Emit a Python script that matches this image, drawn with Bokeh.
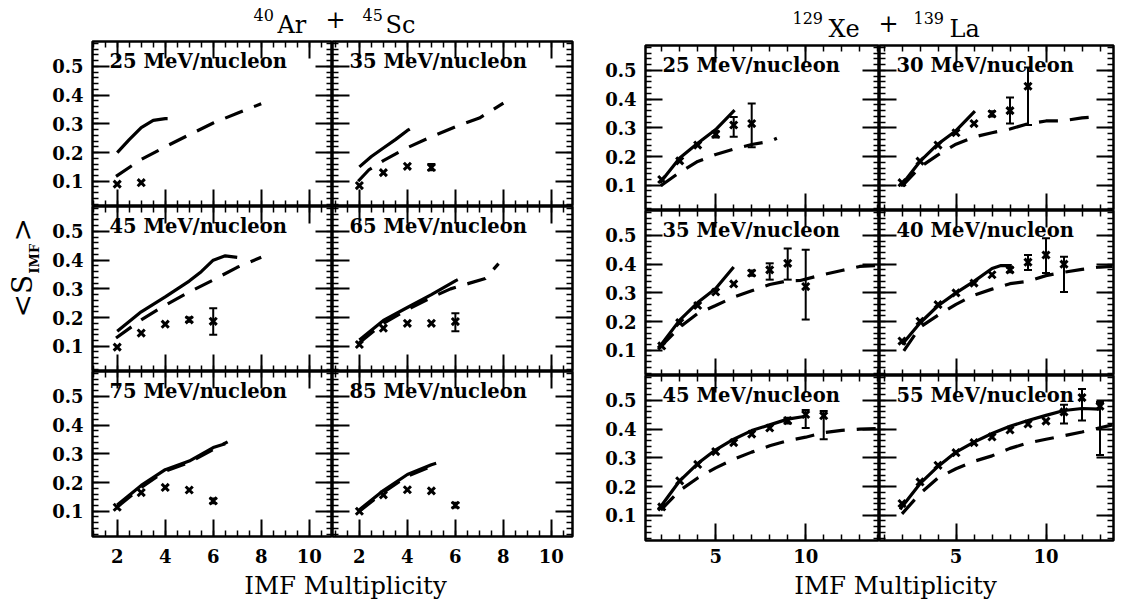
import math
from bokeh.plotting import figure
from bokeh.models import (Range1d, LinearAxis, SingleIntervalTicker, Label,
                          ColumnDataSource, Whisker, TeeHead)
from bokeh.layouts import row, column
from bokeh.embed import file_html
from bokeh.resources import INLINE

SERIF = "DejaVu Serif"

# ---------------- data: 40Ar + 45Sc ----------------
ar25_label = "25 MeV/nucleon"
ar25_solid_x = [2, 2.5, 3, 3.5, 4, 4.1]
ar25_solid_y = [0.20, 0.245, 0.287, 0.312, 0.318, 0.318]
ar25_dash_x = [1.95, 3, 4, 5, 6, 7, 8]
ar25_dash_y = [0.117, 0.176, 0.22, 0.262, 0.303, 0.337, 0.37]
ar25_data_x = [2, 3]
ar25_data_y = [0.09, 0.095]
ar25_err_x, ar25_err_lo, ar25_err_hi = [], [], []

ar35_label = "35 MeV/nucleon"
ar35_solid_x = [2, 2.5, 3, 3.5, 4, 4.1]
ar35_solid_y = [0.15, 0.186, 0.216, 0.245, 0.277, 0.282]
ar35_dash_x = [1.95, 2.4, 3, 4, 5, 6, 7, 8]
ar35_dash_y = [0.10, 0.14, 0.172, 0.217, 0.255, 0.29, 0.32, 0.372]
ar35_data_x = [2, 3, 4, 5]
ar35_data_y = [0.085, 0.13, 0.152, 0.148]
ar35_err_x, ar35_err_lo, ar35_err_hi = [5], [0.138], [0.16]

ar45_label = "45 MeV/nucleon"
ar45_solid_x = [2, 3, 4, 5, 5.5, 6, 6.5, 7]
ar45_solid_y = [0.152, 0.22, 0.272, 0.327, 0.36, 0.40, 0.415, 0.41]
ar45_dash_x = [1.95, 3, 4, 5, 6, 7, 8]
ar45_dash_y = [0.129, 0.192, 0.243, 0.289, 0.331, 0.375, 0.41]
ar45_data_x = [2, 3, 4, 5, 6]
ar45_data_y = [0.097, 0.146, 0.177, 0.192, 0.187]
ar45_err_x, ar45_err_lo, ar45_err_hi = [5, 6], [0.185, 0.14], [0.20, 0.232]

ar65_label = "65 MeV/nucleon"
ar65_solid_x = [2, 3, 4, 5, 6, 6.1]
ar65_solid_y = [0.122, 0.19, 0.235, 0.28, 0.328, 0.332]
ar65_dash_x = [2, 3, 4, 5, 5.8, 6.56, 7.25, 7.8]
ar65_dash_y = [0.112, 0.18, 0.228, 0.27, 0.30, 0.319, 0.336, 0.388]
ar65_data_x = [2, 3, 4, 5, 6]
ar65_data_y = [0.106, 0.163, 0.18, 0.18, 0.186]
ar65_err_x, ar65_err_lo, ar65_err_hi = [6], [0.152], [0.215]

ar75_label = "75 MeV/nucleon"
ar75_solid_x = [2, 3, 4, 5, 6, 6.5]
ar75_solid_y = [0.122, 0.19, 0.245, 0.275, 0.322, 0.335]
ar75_dash_x = [2, 3, 4, 5, 6, 6.6]
ar75_dash_y = [0.115, 0.183, 0.24, 0.27, 0.315, 0.342]
ar75_data_x = [2, 3, 4, 5, 6]
ar75_data_y = [0.114, 0.165, 0.183, 0.174, 0.136]
ar75_err_x, ar75_err_lo, ar75_err_hi = [6], [0.128], [0.144]

ar85_label = "85 MeV/nucleon"
ar85_solid_x = [2, 3, 4, 5, 5.2]
ar85_solid_y = [0.105, 0.172, 0.228, 0.262, 0.267]
ar85_dash_x = [2, 3, 4, 5, 5.2]
ar85_dash_y = [0.10, 0.166, 0.222, 0.256, 0.262]
ar85_data_x = [2, 3, 4, 5, 6]
ar85_data_y = [0.10, 0.157, 0.175, 0.171, 0.121]
ar85_err_x, ar85_err_lo, ar85_err_hi = [6], [0.113], [0.13]

# ---------------- data: 129Xe + 139La ----------------
xe25_label = "25 MeV/nucleon"
xe25_solid_x = [1.9, 3, 4, 5, 6.05]
xe25_solid_y = [0.108, 0.195, 0.246, 0.294, 0.362]
xe25_dash_x = [1.95, 3, 4, 5, 6, 7, 8, 8.4]
xe25_dash_y = [0.098, 0.145, 0.183, 0.207, 0.226, 0.242, 0.253, 0.264]
xe25_data_x = [2, 3, 4, 5, 6, 7]
xe25_data_y = [0.12, 0.185, 0.24, 0.278, 0.31, 0.315]
xe25_err_x, xe25_err_lo, xe25_err_hi = [5, 6, 7], [0.266, 0.269, 0.232], [0.288, 0.338, 0.385]

xe30_label = "30 MeV/nucleon"
xe30_solid_x = [1.9, 2, 3, 4, 5, 6.05]
xe30_solid_y = [0.098, 0.103, 0.183, 0.244, 0.29, 0.358]
xe30_dash_x = [2, 3, 4, 5, 6, 7, 8, 9, 10, 11, 12, 13]
xe30_dash_y = [0.097, 0.163, 0.206, 0.243, 0.268, 0.283, 0.296, 0.314, 0.324, 0.325, 0.335, 0.34]
xe30_data_x = [2, 3, 4, 5, 6, 7, 8, 9]
xe30_data_y = [0.109, 0.184, 0.24, 0.283, 0.315, 0.349, 0.36, 0.445]
xe30_err_x, xe30_err_lo, xe30_err_hi = [7, 8, 9], [0.34, 0.315, 0.31], [0.358, 0.406, 0.51]

xe35_label = "35 MeV/nucleon"
xe35_solid_x = [1.8, 2, 3, 4, 5, 6]
xe35_solid_y = [0.108, 0.122, 0.205, 0.266, 0.315, 0.39]
xe35_dash_x = [1.9, 3, 4, 5, 6, 7, 8, 9, 9.7, 11, 12, 13, 14]
xe35_dash_y = [0.11, 0.18, 0.228, 0.256, 0.285, 0.307, 0.329, 0.342, 0.343, 0.364, 0.378, 0.392, 0.395]
xe35_data_x = [2, 3, 4, 5, 6, 7, 8, 9, 10]
xe35_data_y = [0.115, 0.196, 0.256, 0.303, 0.331, 0.369, 0.38, 0.403, 0.322]
xe35_err_x, xe35_err_lo, xe35_err_hi = [7, 8, 9, 10], [0.36, 0.346, 0.346, 0.207], [0.378, 0.403, 0.455, 0.45]

xe40_label = "40 MeV/nucleon"
xe40_solid_x = [2, 3, 4, 5, 6, 7, 7.5, 8.1]
xe40_solid_y = [0.12, 0.195, 0.255, 0.30, 0.34, 0.385, 0.395, 0.395]
xe40_dash_x = [2.1, 3, 4, 5, 6, 7, 8, 9, 10, 11, 12, 13, 13.7]
xe40_dash_y = [0.098, 0.18, 0.222, 0.26, 0.292, 0.313, 0.332, 0.34, 0.36, 0.372, 0.382, 0.39, 0.392]
xe40_data_x = [2, 3, 4, 5, 6, 7, 8, 9, 10, 11]
xe40_data_y = [0.132, 0.201, 0.259, 0.30, 0.334, 0.363, 0.38, 0.407, 0.432, 0.40]
xe40_err_x, xe40_err_lo, xe40_err_hi = [8, 9, 10, 11], [0.372, 0.38, 0.369, 0.303], [0.388, 0.432, 0.49, 0.426]

xe45_label = "45 MeV/nucleon"
xe45_solid_x = [1.8, 2, 3, 4, 5, 6, 7, 8, 9, 10]
xe45_solid_y = [0.12, 0.135, 0.22, 0.28, 0.328, 0.365, 0.395, 0.415, 0.435, 0.445]
xe45_dash_x = [1.95, 3, 4, 5, 6, 7, 8, 9, 10, 11, 12, 13, 14]
xe45_dash_y = [0.118, 0.186, 0.23, 0.265, 0.295, 0.32, 0.342, 0.36, 0.372, 0.388, 0.396, 0.40, 0.402]
xe45_data_x = [2, 3, 4, 5, 6, 7, 8, 9, 10, 11]
xe45_data_y = [0.129, 0.22, 0.277, 0.322, 0.353, 0.383, 0.404, 0.43, 0.451, 0.447]
xe45_err_x, xe45_err_lo, xe45_err_hi = [9, 10, 11], [0.42, 0.404, 0.365], [0.44, 0.467, 0.463]

xe55_label = "55 MeV/nucleon"
xe55_solid_x = [1.9, 2, 3, 4, 5, 6, 7, 8, 9, 10, 11, 12, 13]
xe55_solid_y = [0.12, 0.13, 0.21, 0.27, 0.32, 0.355, 0.385, 0.41, 0.43, 0.448, 0.465, 0.472, 0.47]
xe55_dash_x = [2, 3, 4, 5, 6, 7, 8, 9, 10, 11, 12, 13, 13.7]
xe55_dash_y = [0.105, 0.175, 0.23, 0.262, 0.288, 0.307, 0.333, 0.352, 0.365, 0.377, 0.39, 0.405, 0.415]
xe55_data_x = [2, 3, 4, 5, 6, 7, 8, 9, 10, 11, 12, 13]
xe55_data_y = [0.141, 0.216, 0.274, 0.318, 0.353, 0.373, 0.397, 0.418, 0.428, 0.46, 0.51, 0.48]
xe55_err_x, xe55_err_lo, xe55_err_hi = [11, 12, 13], [0.42, 0.43, 0.31], [0.485, 0.54, 0.495]

# ---------------- layout constants ----------------
YR = (0.012, 0.587)
GROUPS = {
    "L": dict(fw=240, fh=165, xr=[(0.97, 10.97), (0.88, 10.88)], bl=48,
              xint=2, xminor=4, xstand=12, bb=33),
    "R": dict(fw=234, fh=165, xr=[(1.1, 14.1), (0.75, 13.75)], bl=70,
              xint=5, xminor=5, xstand=8, bb=30),
}


def make_axis(ticker, labeled, fixed, standoff):
    ax = LinearAxis(ticker=ticker)
    ax.axis_line_color = None
    ax.major_tick_in = 17
    ax.major_tick_out = 0
    ax.minor_tick_in = 6
    ax.minor_tick_out = 0
    ax.major_tick_line_width = 2
    ax.minor_tick_line_width = 1.5
    ax.major_tick_line_color = "black"
    ax.minor_tick_line_color = "black"
    if labeled:
        ax.major_label_text_font = SERIF
        ax.major_label_text_font_size = "18px"
        ax.major_label_text_font_style = "bold"
        ax.major_label_text_color = "black"
        ax.major_label_standoff = standoff
    else:
        ax.major_label_text_font_size = "0px"
        ax.major_label_text_color = None
        ax.major_label_standoff = 0
        ax.fixed_location = fixed
    return ax


def make_panel(group, col, rowi, label, sx, sy, dx, dy, px, py, ex, elo, ehi):
    g = GROUPS[group]
    fw, fh = g["fw"], g["fh"]
    xr = g["xr"][col]
    bl = g["bl"] if col == 0 else 0
    br = 3 if col == 1 else 0
    bt = 3 if rowi == 0 else 0
    bb = g["bb"] if rowi == 2 else 0
    p = figure(width=bl + fw + br, height=bt + fh + bb,
               x_range=Range1d(*xr), y_range=Range1d(*YR),
               x_axis_location=None, y_axis_location=None,
               toolbar_location=None, output_backend="svg",
               min_border_left=bl, min_border_right=br,
               min_border_top=bt, min_border_bottom=bb)
    p.grid.visible = False
    p.outline_line_color = "black"
    p.outline_line_width = 2.5
    p.background_fill_color = "white"
    p.border_fill_color = "white"

    p.add_layout(make_axis(SingleIntervalTicker(interval=0.1, num_minor_ticks=5),
                           col == 0, xr[0], 9), "left")
    p.add_layout(make_axis(SingleIntervalTicker(interval=0.1, num_minor_ticks=5),
                           False, xr[1], 0), "right")
    p.add_layout(make_axis(SingleIntervalTicker(interval=g["xint"], num_minor_ticks=g["xminor"]),
                           rowi == 2, YR[0], g["xstand"]), "below")
    p.add_layout(make_axis(SingleIntervalTicker(interval=g["xint"], num_minor_ticks=g["xminor"]),
                           False, YR[1], 0), "above")

    ppx = fw / (xr[1] - xr[0])
    ppy = fh / (YR[1] - YR[0])
    p.add_layout(Label(x=xr[0] + 17 / ppx, y=YR[1] - 8 / ppy, text=label,
                       text_font=SERIF, text_font_size="19.5px", text_font_style="bold",
                       text_color="black", text_align="left", text_baseline="top"))

    p.line(sx, sy, line_width=3.2, line_color="black")
    p.line(dx, dy, line_width=3.2, line_color="black", line_dash="19 12")
    p.scatter(px, py, marker="x", size=10, line_width=3, line_color="black")
    if ex:
        src = ColumnDataSource(dict(base=ex, lower=elo, upper=ehi))
        p.add_layout(Whisker(base="base", lower="lower", upper="upper", source=src,
                             line_width=2, line_color="black",
                             upper_head=TeeHead(size=8, line_width=2, line_color="black"),
                             lower_head=TeeHead(size=8, line_width=2, line_color="black")))
    return p


def blank(w, h):
    f = figure(width=w, height=h, x_range=Range1d(0, w), y_range=Range1d(h, 0),
               x_axis_location=None, y_axis_location=None,
               toolbar_location=None, output_backend="svg", min_border=0)
    f.grid.visible = False
    f.outline_line_color = None
    return f


def txt(f, x, y, s, size, style="normal", angle=0.0, align="left"):
    # (x, y): top-left of the text box, in pixels from the strip's top-left
    f.add_layout(Label(x=x, y=y, text=s, text_font=SERIF, text_font_size=size,
                       text_font_style=style, text_color="black", angle=angle,
                       text_align=align, text_baseline="top"))


# ---------------- Ar + Sc group ----------------
pL = [
    [make_panel("L", 0, 0, ar25_label, ar25_solid_x, ar25_solid_y, ar25_dash_x, ar25_dash_y,
                ar25_data_x, ar25_data_y, ar25_err_x, ar25_err_lo, ar25_err_hi),
     make_panel("L", 1, 0, ar35_label, ar35_solid_x, ar35_solid_y, ar35_dash_x, ar35_dash_y,
                ar35_data_x, ar35_data_y, ar35_err_x, ar35_err_lo, ar35_err_hi)],
    [make_panel("L", 0, 1, ar45_label, ar45_solid_x, ar45_solid_y, ar45_dash_x, ar45_dash_y,
                ar45_data_x, ar45_data_y, ar45_err_x, ar45_err_lo, ar45_err_hi),
     make_panel("L", 1, 1, ar65_label, ar65_solid_x, ar65_solid_y, ar65_dash_x, ar65_dash_y,
                ar65_data_x, ar65_data_y, ar65_err_x, ar65_err_lo, ar65_err_hi)],
    [make_panel("L", 0, 2, ar75_label, ar75_solid_x, ar75_solid_y, ar75_dash_x, ar75_dash_y,
                ar75_data_x, ar75_data_y, ar75_err_x, ar75_err_lo, ar75_err_hi),
     make_panel("L", 1, 2, ar85_label, ar85_solid_x, ar85_solid_y, ar85_dash_x, ar85_dash_y,
                ar85_data_x, ar85_data_y, ar85_err_x, ar85_err_lo, ar85_err_hi)],
]

# y-axis title in its own narrow strip (rotated, reads bottom to top)
ylab = blank(44, 400)
txt(ylab, 5, 317, "<S", "28px", angle=math.pi / 2)
txt(ylab, 26, 273, "IMF", "13px", "bold", angle=math.pi / 2)
txt(ylab, 5, 241, ">", "28px", angle=math.pi / 2)

# group title
titleL = blank(531, 38)
txt(titleL, 209, 8, "40", "16px")
txt(titleL, 233, 10, "Ar", "24px")
txt(titleL, 281, 9, "+", "24px")
txt(titleL, 318, 8, "45", "16px")
txt(titleL, 341, 10, "Sc", "24px")

xlabL = blank(531, 31)
txt(xlabL, 301, 1, "IMF Multiplicity", "24.5px", align="center")

left_group = row(ylab, column(titleL, row(*pL[0]), row(*pL[1]), row(*pL[2]), xlabL))

# ---------------- Xe + La group ----------------
pR = [
    [make_panel("R", 0, 0, xe25_label, xe25_solid_x, xe25_solid_y, xe25_dash_x, xe25_dash_y,
                xe25_data_x, xe25_data_y, xe25_err_x, xe25_err_lo, xe25_err_hi),
     make_panel("R", 1, 0, xe30_label, xe30_solid_x, xe30_solid_y, xe30_dash_x, xe30_dash_y,
                xe30_data_x, xe30_data_y, xe30_err_x, xe30_err_lo, xe30_err_hi)],
    [make_panel("R", 0, 1, xe35_label, xe35_solid_x, xe35_solid_y, xe35_dash_x, xe35_dash_y,
                xe35_data_x, xe35_data_y, xe35_err_x, xe35_err_lo, xe35_err_hi),
     make_panel("R", 1, 1, xe40_label, xe40_solid_x, xe40_solid_y, xe40_dash_x, xe40_dash_y,
                xe40_data_x, xe40_data_y, xe40_err_x, xe40_err_lo, xe40_err_hi)],
    [make_panel("R", 0, 2, xe45_label, xe45_solid_x, xe45_solid_y, xe45_dash_x, xe45_dash_y,
                xe45_data_x, xe45_data_y, xe45_err_x, xe45_err_lo, xe45_err_hi),
     make_panel("R", 1, 2, xe55_label, xe55_solid_x, xe55_solid_y, xe55_dash_x, xe55_dash_y,
                xe55_data_x, xe55_data_y, xe55_err_x, xe55_err_lo, xe55_err_hi)],
]

titleR = blank(541, 42)
txt(titleR, 217, 11, "129", "16px")
txt(titleR, 253, 14, "Xe", "24px")
txt(titleR, 303, 13, "+", "24px")
txt(titleR, 338, 11, "139", "16px")
txt(titleR, 374, 14, "La", "24px")

xlabR = blank(541, 30)
txt(xlabR, 320, 0.5, "IMF Multiplicity", "24.5px", align="center")

right_group = column(titleR, row(*pR[0]), row(*pR[1]), row(*pR[2]), xlabR)

root = row(left_group, right_group)
open("out.html", "w").write(file_html(root, INLINE))
